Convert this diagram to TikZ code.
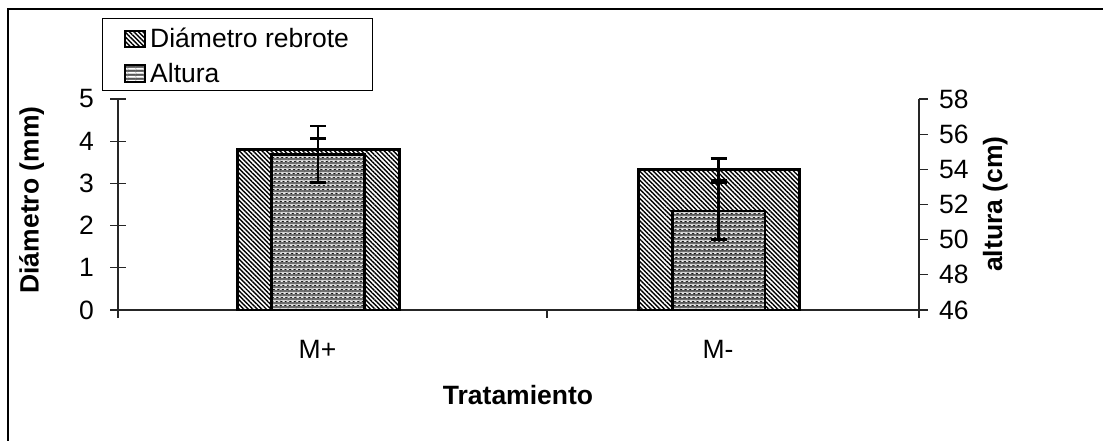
\documentclass[tikz,border=0pt]{standalone}
\usepackage{fontspec}
\setmainfont{Liberation Sans}
\usetikzlibrary{patterns,patterns.meta}
\definecolor{altbg}{gray}{0.55}
\definecolor{altdark}{gray}{0.22}
\definecolor{altvert}{gray}{0.38}
\pgfdeclarepatterninherentlycolored{altpat}{\pgfpointorigin}{\pgfpoint{8pt}{4pt}}{\pgfpoint{8pt}{4pt}}{%
  \pgfsetfillcolor{altbg}\pgfpathrectangle{\pgfpointorigin}{\pgfpoint{8pt}{4pt}}\pgfusepath{fill}%
  \pgfsetfillcolor{white}\pgfpathrectangle{\pgfpoint{0pt}{0pt}}{\pgfpoint{8pt}{0.9pt}}\pgfusepath{fill}%
  \pgfsetfillcolor{altdark}\pgfpathrectangle{\pgfpoint{0pt}{2pt}}{\pgfpoint{8pt}{1.1pt}}\pgfusepath{fill}%
  \pgfsetfillcolor{altvert}\pgfpathrectangle{\pgfpoint{0pt}{0.9pt}}{\pgfpoint{0.8pt}{3.1pt}}\pgfusepath{fill}%
}
\begin{document}
\begin{tikzpicture}[x=1pt,y=-1pt,
  txt/.style={font=\fontsize{26.5}{30}\selectfont, inner sep=0pt},
  btxt/.style={font=\fontsize{26.5}{30}\selectfont\bfseries, inner sep=0pt},
  diam/.style={preaction={fill=white}, pattern={Lines[angle=-45,distance=3.2pt,line width=1.4pt]}, pattern color=black, draw=black, line width=2.8pt},
  alt/.style={pattern=altpat, draw=black, line width=2.8pt},
  err/.style={line width=2.6pt, black},
  axisline/.style={line width=1.3pt, black!85}]

\useasboundingbox (0,0) rectangle (1103,441);
\draw[line width=1.8pt] (8,441) -- (8,9) -- (1103,9);

% axes
\draw[axisline] (118,99) -- (118,318);
\foreach \k in {0,...,5} {
  \draw[axisline] (110,{310-\k*42.2}) -- (126,{310-\k*42.2});
  \node[txt, anchor=east] (l\k) at (94,{310-\k*42.2}) {\k};
}
\draw[axisline] (919,99) -- (919,318);
\foreach \k [evaluate=\k as \v using int(46+2*\k)] in {0,...,6} {
  \draw[axisline] (919,{310-\k*35.1667}) -- (928,{310-\k*35.1667});
  \node[txt, anchor=west] (r\k) at (939,{310-\k*35.1667}) {\v};
}
\draw[axisline] (118,310) -- (919,310);
\draw[axisline] (547,310) -- (547,318);

% M+
\draw[diam] (237.7,310) rectangle (399.3,149.5);
\draw[err] (318,160.7) -- (318,138.3);
\draw[err] (310,138.3) -- (326,138.3);
\draw[alt] (271.7,310) rectangle (364.3,154.3);
\draw[err] (318,182.7) -- (318,126);
\draw[err] (310,126) -- (326,126);
\draw[err] (310,182.7) -- (326,182.7);

% M-
\draw[diam] (638.3,310) rectangle (799.3,169.3);
\draw[err] (718.7,158.3) -- (718.7,180.3);
\draw[err] (710.7,158.3) -- (726.7,158.3);
\draw[err] (710.7,180.3) -- (726.7,180.3);
\draw[alt] (672.3,310) rectangle (765,211);
\draw[err] (718.7,182.7) -- (718.7,239.3);
\draw[err] (710.7,182.7) -- (726.7,182.7);
\draw[err] (710.7,239.3) -- (726.7,239.3);

% labels
\node[txt] (mp) at (317.5,349) {M+};
\node[txt] (mm) at (718,349) {M-};
\node[btxt] (xlab) at (518,395) {Tratamiento};
\node[btxt, rotate=90, anchor=base] (ylab) at (38.5,200) {Diámetro (mm)};
\node[btxt, rotate=90, anchor=base] (y2lab) at (1002,204) {altura (cm)};

% legend
\draw[line width=1.2pt, fill=white] (102.7,18.3) rectangle (372.7,90.7);
\draw[diam, line width=2pt] (125,31) rectangle (145,47);
\draw[alt, line width=2pt] (125,65.5) rectangle (145,82);
\node[txt, anchor=base west] (leg1) at (150,48) {Diámetro rebrote};
\node[txt, anchor=base west] (leg2) at (150,82.5) {Altura};
\end{tikzpicture}
\end{document}
